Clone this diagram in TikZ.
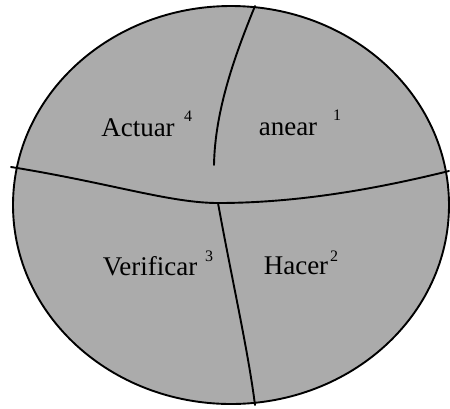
\documentclass[tikz,border=0pt]{standalone}
\usepackage{fontspec}
\setmainfont{Liberation Serif}
\tikzset{
  lbl/.style={font=\fontsize{27}{30}\selectfont, inner sep=0pt, anchor=center},
  sup/.style={font=\fontsize{16}{18}\selectfont, inner sep=0pt, anchor=center},
  divider/.style={line width=1.9pt, line cap=round}
}
\begin{document}
\begin{tikzpicture}[x=1pt,y=-1pt]
\useasboundingbox (0,0) rectangle (450,408);
\fill[white] (0,0) rectangle (450,408);
\filldraw[fill=black!33, line width=1.9pt] (231,205) ellipse [x radius=218, y radius=199];
% dividers
\coordinate (hl) at (11,167);
\coordinate (hr) at (449,171);
\coordinate (hm) at (218,203);
\draw[divider] (hl) .. controls (110,183) and (170,203) .. (hm) .. controls (300,203) and (380,188) .. (hr);
\coordinate (ut) at (255,6);
\coordinate (ub) at (214,165);
\draw[divider] (ut) .. controls (235,55) and (215,110) .. (ub);
\coordinate (lb) at (255,405);
\draw[divider] (hm) .. controls (232,280) and (248,350) .. (lb);
% labels
\node[lbl] (act) at (138,128) {Actuar};
\node[sup] (a4) at (188,116) {4};
\node[lbl] (pla) at (288,129) {anear};
\node[sup] (p1) at (337,115) {1};
\node[lbl] (ver) at (150,266) {Verificar};
\node[sup] (v3) at (209,256) {3};
\node[lbl] (hac) at (296,266) {Hacer};
\node[sup] (h2) at (334,256) {2};
\end{tikzpicture}
\end{document}
